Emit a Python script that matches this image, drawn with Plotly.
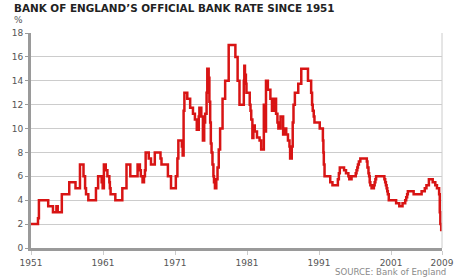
import plotly.graph_objects as go

# Step series (decimal year, official bank rate %)
years = [
    1951.00, 1951.97, 1952.10, 1953.39, 1954.05, 1954.53, 1954.71, 1955.28, 1956.31, 1957.18,
    1957.80, 1958.29, 1958.51, 1958.64, 1958.96, 1960.02, 1960.32, 1960.81, 1960.95, 1961.12,
    1961.38, 1961.61, 1961.88, 1961.95, 1962.05, 1962.71, 1963.68, 1964.26, 1964.79, 1965.80,
    1966.12, 1966.25, 1966.49, 1966.69, 1966.82, 1966.92, 1967.35, 1967.66, 1968.19, 1968.98,
    1969.12, 1970.01, 1970.44, 1971.11, 1971.33, 1971.46, 1971.95, 1972.06, 1972.19, 1972.30,
    1972.70, 1973.10, 1973.49, 1973.76, 1974.02, 1974.29, 1974.38, 1974.65, 1974.87, 1975.05,
    1975.18, 1975.38, 1975.48, 1975.67, 1975.77, 1975.88, 1975.97, 1976.07, 1976.20, 1976.33,
    1976.41, 1976.54, 1976.73, 1976.90, 1977.07, 1977.26, 1977.60, 1977.96, 1978.45, 1979.38,
    1979.69, 1979.95, 1980.55, 1980.62, 1980.71, 1980.84, 1980.92, 1981.37, 1981.48, 1981.58,
    1981.74, 1981.88, 1982.07, 1982.38, 1982.74, 1982.96, 1983.33, 1983.43, 1983.63, 1983.89,
    1984.24, 1984.46, 1984.79, 1985.03, 1985.22, 1985.35, 1985.65, 1986.01, 1986.23, 1986.44,
    1986.68, 1986.89, 1986.98, 1987.21, 1987.34, 1987.45, 1987.64, 1988.11, 1988.53, 1989.46,
    1989.90, 1990.03, 1990.12, 1990.26, 1990.36, 1991.09, 1991.53, 1991.60, 1991.66, 1991.76,
    1992.55, 1992.86, 1993.61, 1993.75, 1993.88, 1994.47, 1994.74, 1995.07, 1995.20, 1995.51,
    1996.09, 1996.20, 1996.31, 1996.40, 1996.53, 1996.73, 1997.63, 1997.72, 1997.86, 1997.95,
    1998.03, 1998.12, 1998.29, 1998.61, 1998.72, 1998.82, 1998.92, 2000.07, 2000.18, 2000.28,
    2000.38, 2000.47, 2000.55, 2000.68, 2001.70, 2002.14, 2002.59, 2002.96, 2003.10, 2003.23,
    2003.33, 2004.13, 2005.24, 2005.68, 2005.91, 2006.25, 2006.78, 2007.14, 2007.37, 2007.67,
    2007.76, 2007.84, 2007.96, 2008.07,
]
rates = [
    2.0, 2.5, 4.0, 3.5, 3.0, 3.5, 3.0, 4.5, 5.5, 5.0,
    7.0, 6.0, 5.0, 4.5, 4.0, 5.0, 6.0, 5.5, 5.0, 7.0,
    6.5, 6.0, 5.5, 5.0, 4.5, 4.0, 5.0, 7.0, 6.0, 7.0,
    6.5, 6.0, 5.5, 6.0, 6.5, 8.0, 7.5, 7.0, 8.0, 7.5,
    7.0, 6.0, 5.0, 6.0, 7.5, 9.0, 8.5, 7.75, 11.5, 13.0,
    12.5, 11.75, 11.25, 10.75, 9.9, 11.0, 11.75, 11.0, 9.0, 10.5,
    11.25, 13.0, 15.0, 14.25, 12.25, 10.5, 8.75, 8.0, 7.0, 6.0,
    5.5, 5.0, 5.75, 6.75, 8.25, 10.0, 12.5, 14.0, 17.0, 16.0,
    14.0, 12.0, 14.0, 15.25, 14.5, 13.75, 13.0, 12.0, 11.5, 10.75,
    9.2, 10.25, 9.75, 9.25, 9.0, 8.25, 12.0, 9.75, 14.0, 13.25,
    12.5, 11.5, 12.5, 11.25, 10.5, 10.0, 11.0, 9.5, 10.0, 9.5,
    9.0, 8.5, 7.5, 8.5, 10.5, 12.0, 13.0, 13.75, 15.0, 14.0,
    13.0, 12.0, 11.5, 11.0, 10.5, 10.0, 9.0, 8.0, 7.0, 6.0,
    5.5, 5.25, 5.75, 6.25, 6.75, 6.5, 6.25, 6.0, 5.75, 6.0,
    6.25, 6.5, 6.75, 7.0, 7.25, 7.5, 7.25, 6.75, 6.25, 6.0,
    5.5, 5.25, 5.0, 5.25, 5.5, 5.75, 6.0, 5.75, 5.5, 5.25,
    5.0, 4.75, 4.5, 4.0, 3.75, 3.5, 3.75, 4.0, 4.25, 4.5,
    4.75, 4.5, 4.75, 5.0, 5.25, 5.75, 5.5, 5.25, 5.0, 4.5,
    3.0, 2.0, 1.5, 1.5,
]

x_tick_vals = [1951, 1961, 1971, 1981, 1991, 2001, 2008.07]
x_tick_text = ["1951", "1961", "1971", "1981", "1991", "2001", "2009"]
y_tick_vals = [0, 2, 4, 6, 8, 10, 12, 14, 16, 18]

FONT = "DejaVu Sans"

fig = go.Figure()
fig.add_trace(go.Scatter(
    x=years, y=rates, mode="lines", line_shape="hv",
    line=dict(color="#d81414", width=2.5), hoverinfo="skip",
))

fig.update_layout(
    width=466, height=280,
    margin=dict(l=23, r=13, t=33, b=31),
    paper_bgcolor="white", plot_bgcolor="white",
    showlegend=False,
    font=dict(family=FONT, size=9, color="#555555"),
    xaxis=dict(
        range=[1951, 2008.07], tickvals=x_tick_vals, ticktext=x_tick_text,
        showgrid=False, zeroline=False,
        showline=True, linecolor="#9a9a9a", linewidth=3,
        ticks="outside", ticklen=4, tickcolor="#cccccc", tickwidth=1,
        tickfont=dict(family=FONT, size=9, color="#555555"),
    ),
    yaxis=dict(
        range=[0, 18], tickvals=y_tick_vals,
        showgrid=True, gridcolor="#cccccc", gridwidth=1, zeroline=False,
        showline=True, linecolor="#9a9a9a", linewidth=3,
        ticks="outside", ticklen=3, tickcolor="#9a9a9a", tickwidth=1,
        tickfont=dict(family=FONT, size=9, color="#555555"),
    ),
    shapes=[dict(type="line", xref="paper", yref="paper", x0=1, x1=1, y0=0, y1=1,
                 line=dict(color="#cccccc", width=1))],
    annotations=[
        dict(text="<b>BANK OF ENGLAND\u2019S OFFICIAL BANK RATE SINCE 1951</b>",
             xref="paper", yref="paper", x=-20/430, y=(249-8)/216,
             xanchor="left", yanchor="middle", showarrow=False,
             font=dict(family=FONT, size=10.4, color="#222222")),
        dict(text="%", xref="paper", yref="paper", x=(10-23)/430, y=(249-20)/216,
             xanchor="center", yanchor="middle", showarrow=False,
             font=dict(family=FONT, size=9, color="#555555")),
        dict(text="SOURCE: Bank of England", xref="paper", yref="paper",
             x=(459-23)/430, y=(249-273.5)/216, xanchor="right", yanchor="middle",
             showarrow=False, font=dict(family=FONT, size=8.6, color="#8a8a8a")),
    ],
)

fig.write_html("out.html")
